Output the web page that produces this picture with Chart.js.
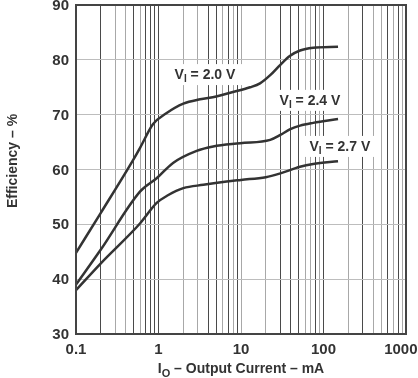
<!DOCTYPE html>
<html><head><meta charset="utf-8">
<script src="https://cdn.jsdelivr.net/npm/chart.js@4/dist/chart.umd.min.js"></script>
<style>html,body{margin:0;padding:0;background:#fff}canvas{display:block}</style>
</head><body>
<canvas id="c" width="418" height="378"></canvas>
<script>
// Output current (mA) and efficiency (%) for each input voltage
const current20 = [0.1, 0.2, 0.5, 0.6, 0.86, 1.23, 2, 3.2, 5, 7.4, 12.9, 17, 22.6, 30, 39, 52, 75, 150];
const eff20     = [44.8, 52.1, 61.9, 64.0, 68.3, 70.2, 72.0, 72.8, 73.3, 74.0, 75.0, 75.7, 77.2, 79.1, 80.7, 81.7, 82.2, 82.4];
const current24 = [0.1, 0.2, 0.6, 0.95, 1.5, 2.9, 4.6, 9.8, 22.6, 30, 39, 52, 75, 150];
const eff24     = [39.0, 45.4, 56.0, 58.4, 61.2, 63.4, 64.2, 64.8, 65.4, 66.3, 67.3, 68.0, 68.5, 69.2];
const current27 = [0.1, 0.2, 0.6, 0.95, 1.3, 2, 3.5, 6.7, 10, 20, 30, 52, 75, 150];
const eff27     = [38.0, 42.9, 50.2, 53.9, 55.3, 56.6, 57.2, 57.8, 58.1, 58.6, 59.3, 60.5, 61.0, 61.5];

const seriesVoltages = ['2.0 V', '2.4 V', '2.7 V'];
const labelAnchorX = [3.66, 68.5, 158];
const labelAnchorY = [77.4, 72.7, 64.3];

const xTickValues = [0.1, 1, 10, 100, 1000];
const xTickLabels = ['0.1', '1', '10', '100', '1000'];
const yTickValues = [30, 40, 50, 60, 70, 80, 90];
const yTickLabels = ['30', '40', '50', '60', '70', '80', '90'];

const xTitleMain = 'I', xTitleSub = 'O', xTitleRest = ' \u2013 Output Current \u2013 mA';
const yTitle = 'Efficiency \u2013 %';

const gridValues = [];
for (let d = 0.1; d < 1000; d *= 10) for (let m = 1; m <= 9; m++) gridValues.push(+(m * d).toPrecision(3));
gridValues.push(1000);
const darkGrid = [0.2, 0.5, 0.7, 0.8, 0.9, 1, 4, 5, 7, 9, 30, 40, 50, 80, 100, 300, 600, 800];

const FONT = '"Liberation Sans", Arial, sans-serif';
const TXT = '#333';

function toPts(xs, ys) { return xs.map((x, i) => ({x: x, y: ys[i]})); }

function drawSubText(ctx, parts, cx, baseY, align) {
  // parts: [text, size, dy]
  let w = 0;
  parts.forEach(p => { ctx.font = 'bold ' + p[1] + 'px ' + FONT; w += ctx.measureText(p[0]).width; });
  let x = align === 'center' ? cx - w / 2 : cx;
  ctx.textAlign = 'left';
  ctx.textBaseline = 'alphabetic';
  parts.forEach(p => {
    ctx.font = 'bold ' + p[1] + 'px ' + FONT;
    ctx.fillText(p[0], x, baseY + p[2]);
    x += ctx.measureText(p[0]).width;
  });
  return w;
}

const decor = {
  id: 'decor',
  beforeDatasetsDraw(chart) {
    const ctx = chart.ctx, sx = chart.scales.x, sy = chart.scales.y;
    ctx.save();
    seriesVoltages.forEach((v, i) => {
      const cx = sx.getPixelForValue(labelAnchorX[i]);
      const cy = sy.getPixelForValue(labelAnchorY[i]);
      const parts = [['V', 14, 0], ['I', 10, 3], [' = ' + v, 14, 0]];
      let w = 0;
      parts.forEach(p => { ctx.font = 'bold ' + p[1] + 'px ' + FONT; w += ctx.measureText(p[0]).width; });
      ctx.fillStyle = '#fff';
      ctx.fillRect(cx - w / 2 - 7, cy - 10, w + 14, 21);
      ctx.fillStyle = TXT;
      drawSubText(ctx, parts, cx, cy + 5, 'center');
    });
    ctx.restore();
  },
  afterDraw(chart) {
    const ctx = chart.ctx, a = chart.chartArea, sx = chart.scales.x, sy = chart.scales.y;
    ctx.save();
    ctx.strokeStyle = '#444';
    ctx.lineWidth = 2;
    ctx.strokeRect(a.left, a.top, a.right - a.left, a.bottom - a.top);
    ctx.fillStyle = TXT;
    ctx.font = 'bold 15px ' + FONT;
    ctx.textAlign = 'right';
    ctx.textBaseline = 'middle';
    yTickValues.forEach((v, i) => ctx.fillText(yTickLabels[i], 69, sy.getPixelForValue(v) + 1));
    ctx.textBaseline = 'alphabetic';
    xTickValues.forEach((v, i) => {
      const px = sx.getPixelForValue(v);
      const w = ctx.measureText(xTickLabels[i]).width;
      let left = px - w / 2;
      if (left + w > chart.width - 0.5) left = chart.width - 0.5 - w;
      ctx.textAlign = 'left';
      ctx.fillText(xTickLabels[i], left, 354);
    });
    drawSubText(ctx, [[xTitleMain, 14, 0], [xTitleSub, 11, 4], [xTitleRest, 14, 0]], 241, 373, 'center');
    ctx.translate(17, 161);
    ctx.rotate(-Math.PI / 2);
    ctx.font = 'bold 14px ' + FONT;
    ctx.textAlign = 'center';
    ctx.textBaseline = 'alphabetic';
    ctx.fillText(yTitle, 0, 0);
    ctx.restore();
  }
};

const lineStyle = {borderColor: '#333', borderWidth: 2.5, pointRadius: 0, fill: false, cubicInterpolationMode: 'monotone'};

new Chart(document.getElementById('c').getContext('2d'), {
  type: 'line',
  data: {
    datasets: [
      Object.assign({label: seriesVoltages[0], data: toPts(current20, eff20)}, lineStyle),
      Object.assign({label: seriesVoltages[1], data: toPts(current24, eff24)}, lineStyle),
      Object.assign({label: seriesVoltages[2], data: toPts(current27, eff27)}, lineStyle)
    ]
  },
  options: {
    responsive: false,
    animation: false,
    devicePixelRatio: 1,
    layout: {padding: {left: 76, right: 12, top: 5, bottom: 44}},
    plugins: {legend: {display: false}, tooltip: {enabled: false}},
    scales: {
      x: {
        type: 'logarithmic', min: 0.1, max: 1000,
        afterBuildTicks: s => { s.ticks = gridValues.map(v => ({value: v})); },
        ticks: {display: false, autoSkip: false},
        grid: {drawTicks: false, lineWidth: 1,
          color: c => (c.tick && darkGrid.some(d => Math.abs(d - c.tick.value) < 1e-6 * d)) ? '#4a4a4a' : '#a8a8a8'},
        border: {display: false}
      },
      y: {
        min: 30, max: 90,
        ticks: {display: false, stepSize: 10},
        grid: {drawTicks: false, color: '#bdbdbd', lineWidth: 1},
        border: {display: false}
      }
    }
  },
  plugins: [decor]
});
</script>
</body></html>
